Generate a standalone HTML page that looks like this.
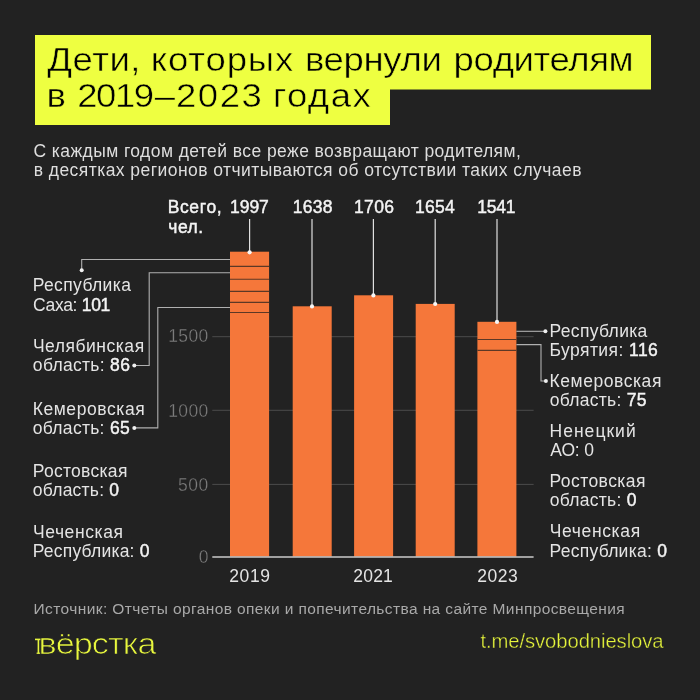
<!DOCTYPE html>
<html lang="ru">
<head>
<meta charset="utf-8">
<title>Дети, которых вернули родителям в 2019–2023 годах</title>
<style>
html,body{margin:0;padding:0;background:#222222;}
body{width:700px;height:700px;overflow:hidden;position:relative;}
svg{position:absolute;left:0;top:0;display:block;}
text{font-family:"Liberation Sans",sans-serif;white-space:pre;}
.title{font-size:33.5px;fill:#000;stroke:#eeff41;stroke-width:0.5px;}
.sub{font-size:17.5px;fill:#dedede;}
.lab{font-size:17.5px;fill:#e4e4e4;}
.sb{fill:#f4f4f4;stroke:#f4f4f4;stroke-width:0.45px;}
.ax{font-size:17.5px;fill:#7c7c7c;stroke:#222222;stroke-width:0.3px;}
.yr{font-size:17.5px;fill:#e4e4e4;}
.src{font-size:15.5px;fill:#a9a9a9;}
.logo{font-size:29px;fill:#e8f73e;stroke:#222222;stroke-width:0.75px;}
.tg{font-size:19.3px;fill:#e6f53c;stroke:#222222;stroke-width:0.35px;}

</style>
</head>
<body>
<svg width="700" height="700" viewBox="0 0 700 700">
<rect x="0" y="0" width="700" height="700" fill="#222222"/>
<rect x="35" y="35" width="616" height="54.5" fill="#eeff41"/>
<rect x="35" y="89" width="355" height="36" fill="#eeff41"/>
<!-- gridlines -->
<g stroke="#4c4c4c" stroke-width="1">
<line x1="212.3" y1="336.7" x2="533.6" y2="336.7"/>
<line x1="212.3" y1="410.3" x2="533.6" y2="410.3"/>
<line x1="212.3" y1="484.4" x2="533.6" y2="484.4"/>
</g>
<!-- bars -->
<g fill="#f5773a">
<rect x="230" y="251.7" width="39.1" height="304.9"/>
<rect x="292.7" y="306.3" width="39" height="250.3"/>
<rect x="354.1" y="295.3" width="39" height="261.3"/>
<rect x="415.7" y="303.9" width="39" height="252.7"/>
<rect x="477.4" y="321.8" width="39" height="234.8"/>
</g>
<!-- baseline -->
<line x1="212.3" y1="557" x2="533.6" y2="557" stroke="#cbcbcb" stroke-width="1.7"/>
<!-- segment lines in bars -->
<g stroke="#5c3826" stroke-width="1.1">
<line x1="230" y1="266.4" x2="269.1" y2="266.4"/>
<line x1="230" y1="279.2" x2="269.1" y2="279.2"/>
<line x1="230" y1="291.4" x2="269.1" y2="291.4"/>
<line x1="230" y1="302.4" x2="269.1" y2="302.4"/>
<line x1="230" y1="312.5" x2="269.1" y2="312.5"/>
<line x1="477.4" y1="339.5" x2="516.4" y2="339.5"/>
<line x1="477.4" y1="350.4" x2="516.4" y2="350.4"/>
</g>
<!-- connectors -->
<g stroke="#b0b0b0" stroke-width="1.1" fill="none">
<polyline points="81.7,270 81.7,259.5 230,259.5"/>
<polyline points="134.3,365.5 149.2,365.5 149.2,272.7 230,272.7"/>
<polyline points="134.3,427.9 157.8,427.9 157.8,307.5 230,307.5"/>
<polyline points="516.4,331.3 545.4,331.3"/>
<polyline points="516.4,344.6 541,344.6 541,381 545.8,381"/>
</g>
<g fill="#f0f0f0">
<circle cx="81.7" cy="270.2" r="2"/>
<circle cx="134.3" cy="365.5" r="2"/>
<circle cx="134.3" cy="427.9" r="2"/>
<circle cx="545.4" cy="331.3" r="2"/>
<circle cx="545.9" cy="381" r="2"/>
</g>
<!-- pointer lines -->
<g stroke="#e0e0e0" stroke-width="1.2">
<line x1="249.6" y1="219" x2="249.6" y2="252.3"/>
<line x1="312" y1="219" x2="312" y2="306.4"/>
<line x1="373.4" y1="219" x2="373.4" y2="295.4"/>
<line x1="435.2" y1="219" x2="435.2" y2="304"/>
<line x1="497" y1="219" x2="497" y2="321.9"/>
</g>
<g fill="#f6f6f6">
<circle cx="249.6" cy="252.3" r="2.1"/>
<circle cx="312" cy="306.4" r="2.1"/>
<circle cx="373.4" cy="295.4" r="2.1"/>
<circle cx="435.2" cy="304" r="2.1"/>
<circle cx="497" cy="321.9" r="2.1"/>
</g>
<!-- logo mark -->
<g stroke="#e8f73e" stroke-width="1.6" fill="none">
<line x1="35" y1="639.4" x2="43" y2="639.4"/>
<line x1="38.4" y1="639.4" x2="38.4" y2="653.6"/>
<line x1="36.6" y1="653.2" x2="40.2" y2="653.2" stroke-width="1.2"/>
</g>

<text class="title" transform="translate(0,71.4) scale(1.09,1)"><tspan id="t1a" x="43.44" style="letter-spacing:0.479px">Дети,</tspan> <tspan id="t1b" x="138.35" style="letter-spacing:0.782px">которых</tspan> <tspan id="t1c" x="279.72" style="letter-spacing:-0.286px">вернули</tspan> <tspan id="t1d" x="416.15" style="letter-spacing:-0.338px">родителям</tspan></text>
<text class="title" transform="translate(0,107.4) scale(1.09,1)"><tspan id="t2a" x="42.71" style="letter-spacing:0.300px">в</tspan> <tspan id="t2b" x="70.92" style="letter-spacing:-1.355px">2019</tspan><tspan id="t2d" x="141.93" style="letter-spacing:0.300px">–</tspan><tspan id="t2e" x="161.47" style="letter-spacing:1.446px">2023</tspan> <tspan id="t2c" x="250.37" style="letter-spacing:1.358px">годах</tspan></text>
<text id="s1" class="sub" x="33.45" y="156.9" style="letter-spacing:0.424px">С каждым годом детей все реже возвращают родителям,</text>
<text id="s2" class="sub" x="33.75" y="176.3" style="letter-spacing:0.440px">в десятках регионов отчитываются об отсутствии таких случаев</text>
<text id="v0" class="lab sb" x="167.65" y="213.2" style="letter-spacing:0.650px">Всего,</text>
<text id="v0b" class="lab sb" x="168.35" y="232.8" style="letter-spacing:0.473px">чел.</text>
<text id="v1" class="lab sb" x="230.00" y="213.2" style="letter-spacing:-0.041px">1997</text>
<text id="v2" class="lab sb" x="292.70" y="213.2" style="letter-spacing:0.300px">1638</text>
<text id="v3" class="lab sb" x="353.90" y="213.2" style="letter-spacing:0.390px">1706</text>
<text id="v4" class="lab sb" x="415.00" y="213.2" style="letter-spacing:0.292px">1654</text>
<text id="v5" class="lab sb" x="477.20" y="213.2" style="letter-spacing:-0.200px">1541</text>
<text id="a1" class="ax" x="168.20" y="342.1" style="letter-spacing:0.377px">1500</text>
<text id="a2" class="ax" x="168.20" y="416.5" style="letter-spacing:0.377px">1000</text>
<text id="a3" class="ax" x="177.90" y="490.9" style="letter-spacing:0.550px">500</text>
<text id="a4" class="ax" x="198.65" y="562.9" style="letter-spacing:0.300px">0</text>
<text id="y1" class="yr" x="229.25" y="581.7" style="letter-spacing:0.641px">2019</text>
<text id="y2" class="yr" x="353.25" y="581.7" style="letter-spacing:0.217px">2021</text>
<text id="y3" class="yr" x="477.25" y="581.7" style="letter-spacing:0.542px">2023</text>
<text id="l1" class="lab" x="32.70" y="291.3" style="letter-spacing:0.380px">Республика</text>
<text id="l2" class="lab" x="32.95" y="310.5" style="letter-spacing:-0.302px">Саха: <tspan class='sb'>101</tspan></text>
<text id="l3" class="lab" x="32.95" y="352.0" style="letter-spacing:0.520px">Челябинская</text>
<text id="l4" class="lab" x="32.85" y="370.8" style="letter-spacing:0.305px">область: <tspan class='sb'>86</tspan></text>
<text id="l5" class="lab" x="32.70" y="414.8" style="letter-spacing:0.575px">Кемеровская</text>
<text id="l6" class="lab" x="32.85" y="433.5" style="letter-spacing:0.280px">область: <tspan class='sb'>65</tspan></text>
<text id="l7" class="lab" x="32.70" y="476.7" style="letter-spacing:0.293px">Ростовская</text>
<text id="l8" class="lab" x="32.85" y="495.5" style="letter-spacing:0.216px">область: <tspan class='sb'>0</tspan></text>
<text id="l9" class="lab" x="32.95" y="537.5" style="letter-spacing:0.582px">Чеченская</text>
<text id="l10" class="lab" x="32.70" y="557.4" style="letter-spacing:0.210px">Республика: <tspan class='sb'>0</tspan></text>
<text id="r1" class="lab" x="549.50" y="336.6" style="letter-spacing:0.339px">Республика</text>
<text id="r2" class="lab" x="549.50" y="356.0" style="letter-spacing:0.435px">Бурятия: <tspan class='sb'>116</tspan></text>
<text id="r3" class="lab" x="549.50" y="387.3" style="letter-spacing:0.560px">Кемеровская</text>
<text id="r4" class="lab" x="549.65" y="406.3" style="letter-spacing:0.280px">область: <tspan class='sb'>75</tspan></text>
<text id="r5" class="lab" x="549.50" y="437.1" style="letter-spacing:1.029px">Ненецкий</text>
<text id="r6" class="lab" x="550.30" y="456.0" style="letter-spacing:-0.162px">АО: 0</text>
<text id="r7" class="lab" x="549.50" y="487.4" style="letter-spacing:0.435px">Ростовская</text>
<text id="r8" class="lab" x="549.65" y="506.4" style="letter-spacing:0.298px">область: <tspan class='sb'>0</tspan></text>
<text id="r9" class="lab" x="549.75" y="537.3" style="letter-spacing:0.631px">Чеченская</text>
<text id="r10" class="lab" x="549.50" y="556.8" style="letter-spacing:0.266px">Республика: <tspan class='sb'>0</tspan></text>
<text id="src" class="src" x="33.55" y="613.6" style="letter-spacing:0.395px">Источник: Отчеты органов опеки и попечительства на сайте Минпросвещения</text>
<text id="lg" class="logo" transform="translate(38.55,653.6) scale(1.18,1)" style="letter-spacing:-0.823px">вёрстка</text>
<text id="tg" class="tg" transform="translate(480.40,648.3) scale(1.05,1)" style="letter-spacing:-0.072px">t.me/svobodnieslova</text>
</svg>
</body>
</html>
